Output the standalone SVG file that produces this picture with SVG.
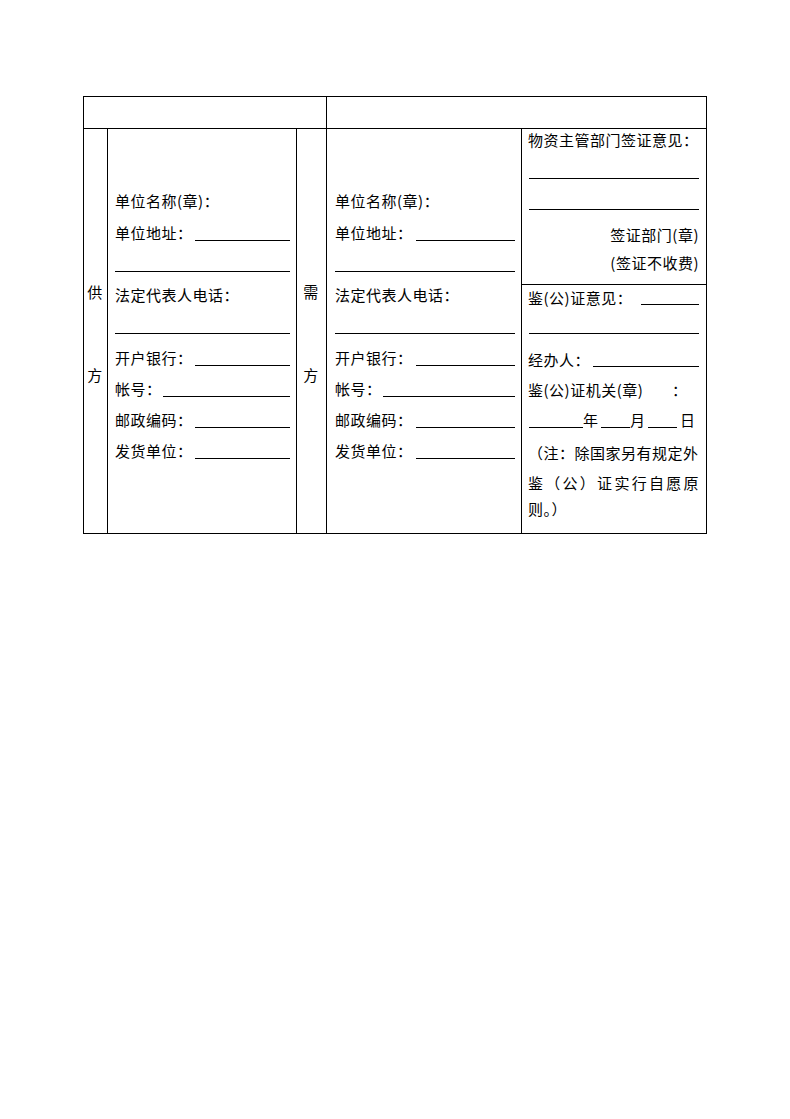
<svg xmlns="http://www.w3.org/2000/svg" width="790" height="1119" viewBox="0 0 790 1119">
<style>
.t{font-family:"Noto Sans CJK SC","Noto Sans",sans-serif;font-size:15px;fill:#000;letter-spacing:0.5px}
.m{text-anchor:middle}
.e{text-anchor:end}
.g{stroke:#000;stroke-width:1;fill:none}
.u{stroke:#000;stroke-width:1}
</style>
<rect width="790" height="1119" fill="#fff"/>
<g id="grid" class="g">
<rect x="83.5" y="96.5" width="623" height="437"/>
<line x1="83" y1="128.5" x2="707" y2="128.5"/>
<line x1="326.5" y1="96" x2="326.5" y2="534"/>
<line x1="107.5" y1="128" x2="107.5" y2="534"/>
<line x1="296.5" y1="128" x2="296.5" y2="534"/>
<line x1="521.5" y1="128" x2="521.5" y2="534"/>
<line x1="521" y1="284.5" x2="707" y2="284.5"/>
</g>
<g id="supplier-label">
<text class="t m" x="95" y="298">供</text>
<text class="t m" x="95" y="381">方</text>
</g>
<g id="buyer-label">
<text class="t m" x="311" y="298">需</text>
<text class="t m" x="311" y="381">方</text>
</g>
<g id="supplier">
<text class="t" x="115" y="207">单位名称(章)：</text>
<text class="t" x="115" y="239">单位地址：</text>
<text class="t" x="115" y="301">法定代表人电话：</text>
<text class="t" x="115" y="364">开户银行：</text>
<text class="t" x="115" y="395">帐号：</text>
<text class="t" x="115" y="426">邮政编码：</text>
<text class="t" x="115" y="457">发货单位：</text>
<g class="u">
<line x1="195" y1="240.5" x2="290" y2="240.5"/>
<line x1="115" y1="271.5" x2="290" y2="271.5"/>
<line x1="115" y1="333.5" x2="290" y2="333.5"/>
<line x1="195" y1="365.5" x2="290" y2="365.5"/>
<line x1="163" y1="396.5" x2="290" y2="396.5"/>
<line x1="195" y1="427.5" x2="290" y2="427.5"/>
<line x1="195" y1="458.5" x2="290" y2="458.5"/>
</g>
</g>
<g id="buyer">
<text class="t" x="335" y="207">单位名称(章)：</text>
<text class="t" x="335" y="239">单位地址：</text>
<text class="t" x="335" y="301">法定代表人电话：</text>
<text class="t" x="335" y="364">开户银行：</text>
<text class="t" x="335" y="395">帐号：</text>
<text class="t" x="335" y="426">邮政编码：</text>
<text class="t" x="335" y="457">发货单位：</text>
<g class="u">
<line x1="416" y1="240.5" x2="515" y2="240.5"/>
<line x1="335" y1="271.5" x2="515" y2="271.5"/>
<line x1="335" y1="333.5" x2="515" y2="333.5"/>
<line x1="416" y1="365.5" x2="515" y2="365.5"/>
<line x1="383" y1="396.5" x2="515" y2="396.5"/>
<line x1="416" y1="427.5" x2="515" y2="427.5"/>
<line x1="416" y1="458.5" x2="515" y2="458.5"/>
</g>
</g>
<g id="authority">
<text class="t" x="528" y="146">物资主管部门签证意见：</text>
<text class="t e" x="699" y="241">签证部门(章)</text>
<text class="t e" x="699" y="269">(签证不收费)</text>
<g class="u">
<line x1="529" y1="178.5" x2="699" y2="178.5"/>
<line x1="529" y1="209.5" x2="699" y2="209.5"/>
</g>
</g>
<g id="notary">
<text class="t" x="528" y="304">鉴(公)证意见：</text>
<text class="t" x="528" y="366">经办人：</text>
<text class="t" x="528" y="396">鉴(公)证机关(章)</text>
<text class="t" x="672" y="396">：</text>
<text class="t" x="583" y="426">年</text>
<text class="t" x="630" y="426">月</text>
<text class="t" x="680" y="426">日</text>
<text class="t" x="528" y="459">（注：除国家另有规定外</text>
<text class="t" x="528" y="489" textLength="171" lengthAdjust="spacing">鉴（公）证实行自愿原</text>
<text class="t" x="528" y="515">则。）</text>
<g class="u">
<line x1="641" y1="304.5" x2="699" y2="304.5"/>
<line x1="529" y1="333.5" x2="699" y2="333.5"/>
<line x1="593" y1="366.5" x2="699" y2="366.5"/>
<line x1="529" y1="427.5" x2="583" y2="427.5"/>
<line x1="601" y1="427.5" x2="630" y2="427.5"/>
<line x1="648" y1="427.5" x2="677" y2="427.5"/>
</g>
</g>
</svg>
